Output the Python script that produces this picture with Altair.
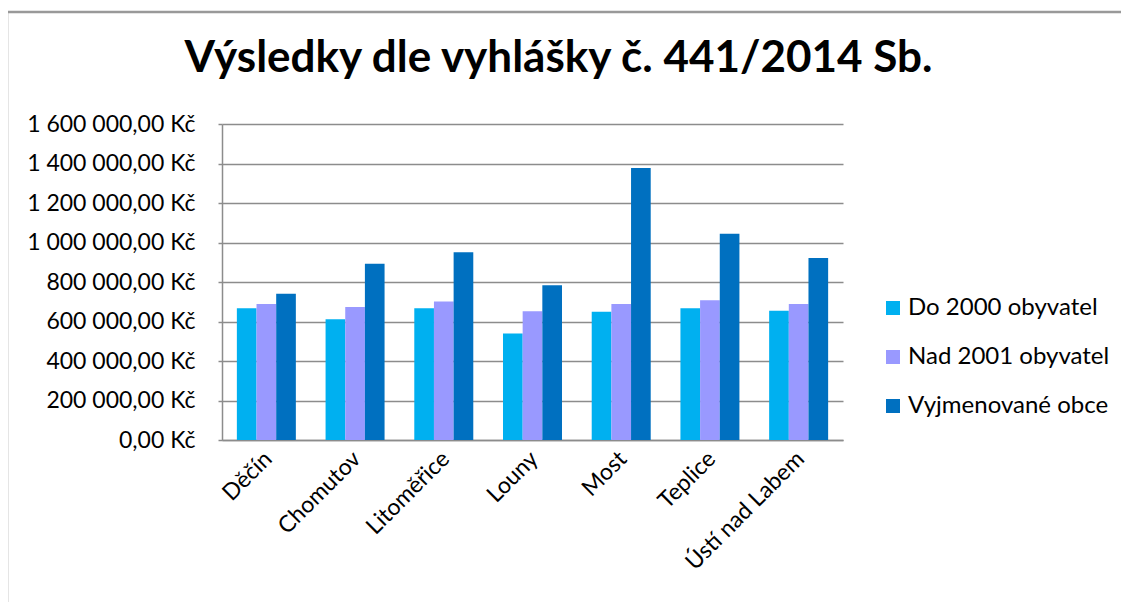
import altair as alt
import pandas as pd

categories = ["Děčín", "Chomutov", "Litoměřice", "Louny", "Most", "Teplice", "Ústí nad Labem"]
series_names = ["Do 2000 obyvatel", "Nad 2001 obyvatel", "Vyjmenované obce"]
do_2000 = [667000, 611000, 667000, 539000, 649000, 667000, 655000]
nad_2001 = [689000, 674000, 701000, 652000, 689000, 708000, 689000]
vyjmenovane = [741000, 893000, 951000, 784000, 1377000, 1044000, 921000]
colors = ["#00B0F0", "#9999FF", "#0070C0"]

rows = []
for s, vals in zip(series_names, [do_2000, nad_2001, vyjmenovane]):
    for c, v in zip(categories, vals):
        rows.append({"Okres": c, "Řada": s, "Hodnota": v})
df = pd.DataFrame(rows)

FONT = "Lato"
W, H = 621, 316

bars = alt.Chart(df).mark_bar(stroke=None).encode(
    x=alt.X("Okres:N", sort=categories,
            scale=alt.Scale(paddingInner=0.335, paddingOuter=0.1675),
            axis=alt.Axis(title=None, labelAngle=315, labelAlign="right", labelBaseline="middle",
                          labelFontSize=23, labelFont=FONT, labelColor="#000000",
                          ticks=False, labelPadding=15, labelOffset=2, labelLimit=400,
                          domainColor="#8c8c8c", domainWidth=1.5, grid=False)),
    xOffset=alt.XOffset("Řada:N", sort=series_names, scale=alt.Scale(paddingInner=0, paddingOuter=0)),
    y=alt.Y("Hodnota:Q", scale=alt.Scale(domain=[0, 1600000], nice=False),
            axis=alt.Axis(title=None, values=list(range(0, 1600001, 200000)), format="$,.2f",
                          labelFontSize=23, labelFont=FONT, labelColor="#000000", labelLimit=400,
                          tickSize=4, tickColor="#8c8c8c", tickWidth=1.5, labelPadding=23,
                          domainColor="#8c8c8c", domainWidth=1.5,
                          grid=True, gridColor="#8c8c8c", gridWidth=1.5)),
    color=alt.Color("Řada:N", sort=series_names,
                    scale=alt.Scale(domain=series_names, range=colors),
                    legend=alt.Legend(title=None, orient="none", legendX=659, legendY=172,
                                      symbolType="square", symbolSize=196, symbolStrokeWidth=0,
                                      labelFontSize=24, labelFont=FONT, labelColor="#000000",
                                      labelLimit=400, rowPadding=25, labelOffset=3, padding=0)),
)

border = alt.Chart(pd.DataFrame({"b": [0]})).mark_rect(
    fill=None, stroke="#999999", strokeWidth=2.5
).encode(x=alt.value(-215), x2=alt.value(1000), y=alt.value(-112), y2=alt.value(600))

chart = alt.layer(border, bars).properties(
    width=W, height=H,
    title=alt.TitleParams("Výsledky dle vyhlášky č. 441/2014 Sb.", font=FONT, fontSize=44,
                          fontWeight="bold", color="#000000", anchor="middle", frame="group",
                          dx=26, offset=-70),
    autosize=alt.AutoSizeParams(type="none"),
    padding={"left": 214, "top": 116, "right": 278, "bottom": 162},
).configure(
    locale=alt.Locale(number=alt.NumberLocale(decimal=",", thousands="\u00a0", grouping=[3],
                                              currency=["", "\u00a0Kč"]))
).configure_view(stroke=None)

chart.save("out.html", embed_options={"renderer": "svg", "actions": False})
